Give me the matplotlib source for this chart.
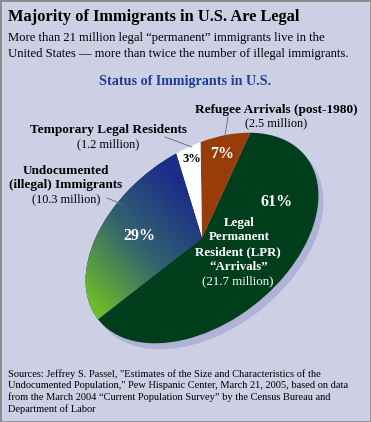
import numpy as np
import matplotlib
matplotlib.use('Agg')
import matplotlib.pyplot as plt
from matplotlib.patches import Ellipse, Rectangle
from matplotlib.transforms import Affine2D
from matplotlib.colors import LinearSegmentedColormap

W, H = 371, 422

# data, in pie order (counter-clockwise from the lower-left tip)
groups = ['LPR', 'Refugee', 'Temporary', 'Undocumented']
millions = [21.7, 2.5, 1.2, 10.3]
shares = ['61%', '7%', '3%', '29%']
slice_colors = ['#013f1c', '#983c0a', '#ffffff', '#1b2e88']

bg = '#cdd0e5'
serif = 'Liberation Serif'


def Y(y):
    # picture rows run downwards, the axes run upwards
    return H - y


fig = plt.figure(figsize=(W / 100, H / 100), dpi=100, facecolor=bg)
ax = fig.add_axes([0, 0, 1, 1])
ax.set_facecolor(bg)

# tilted pie: unit circle squashed and turned
pie_tf = Affine2D().scale(132, 85).rotate_deg(38).translate(202, Y(238))

shadow = Ellipse((0, 0), 2, 2, fc='#b0b3d6', ec='none', zorder=1,
                 transform=pie_tf + Affine2D().translate(5, -6) + ax.transData)
ax.add_patch(shadow)

wedges, _ = ax.pie(millions, colors=slice_colors, startangle=180,
                   counterclock=True, wedgeprops=dict(linewidth=0))
for w in wedges:
    w.set_transform(pie_tf + ax.transData)
    w.set_zorder(2)

# green-to-blue fade on the undocumented slice
gx = np.linspace(70, 215, 300)
gy = np.linspace(Y(345), Y(140), 400)
XX, YY = np.meshgrid(gx, gy)
p0 = np.array([88, Y(300)])
p1 = np.array([195, Y(200)])
d = p1 - p0
t = np.clip(((XX - p0[0]) * d[0] + (YY - p0[1]) * d[1]) / (d @ d), 0, 1)
fade = LinearSegmentedColormap.from_list('undoc', ['#6fbb2a', '#33646e', '#1b2e88'])
im = ax.imshow(t, cmap=fade, extent=(70, 215, Y(345), Y(140)), origin='lower',
               interpolation='bilinear', aspect='auto', zorder=3)
im.set_clip_path(wedges[3])

ax.set_xlim(0, W)
ax.set_ylim(0, H)
ax.set_aspect('auto')
ax.axis('off')

# heading
ax.text(8, Y(21), 'Majority of Immigrants in U.S. Are Legal', fontsize=11.8,
        fontweight='bold', family=serif, va='baseline')
ax.text(8, Y(41.5), 'More than 21 million legal \u201cpermanent\u201d immigrants live in the',
        fontsize=9.1, family=serif, va='baseline')
ax.text(8, Y(57), 'United States \u2014 more than twice the number of illegal immigrants.',
        fontsize=9.1, family=serif, va='baseline')
ax.text(185, Y(85), 'Status of Immigrants in U.S.', fontsize=10.2, fontweight='bold',
        family=serif, color='#1c3f94', ha='center', va='baseline')

# slice labels outside
lab = dict(family=serif, ha='center', va='baseline', zorder=5)
bold_lab = dict(fontsize=9.5, fontweight='bold', **lab)
reg_lab = dict(fontsize=8.8, **lab)
ax.text(276, Y(112.7), 'Refugee Arrivals (post-1980)', **bold_lab)
ax.text(276, Y(126.7), '(2.5 million)', **reg_lab)
ax.text(108, Y(133.3), 'Temporary Legal Residents', **bold_lab)
ax.text(108, Y(147.3), '(1.2 million)', **reg_lab)
ax.text(66, Y(174), 'Undocumented', **bold_lab)
ax.text(66, Y(188), '(illegal) Immigrants', **bold_lab)
ax.text(66, Y(202), '(10.3 million)', **reg_lab)

leader = dict(color='#666666', lw=0.6, zorder=5)
ax.plot([228, 225], [Y(117), Y(136)], **leader)
ax.plot([165, 192], [Y(137), Y(147)], **leader)
ax.plot([107, 124], [Y(198), Y(205)], **leader)

# percentages on the slices
pct = dict(family=serif, ha='center', va='baseline', fontweight='bold', zorder=5)
ax.text(277, Y(206), shares[0], fontsize=11.5, color='white', **pct)
ax.text(222, Y(158), shares[1], fontsize=11.5, color='white', **pct)
ax.text(192, Y(161.7), shares[2], fontsize=9, color='black', **pct)
ax.text(139, Y(240), shares[3], fontsize=11.5, color='white', **pct)

# LPR label inside its slice
inner = dict(family=serif, ha='center', va='baseline', color='white', fontsize=9.3, zorder=5)
ax.text(239, Y(226), 'Legal', fontweight='bold', **inner)
ax.text(239, Y(240.5), 'Permanent', fontweight='bold', **inner)
ax.text(238, Y(255.7), 'Resident (LPR)', fontweight='bold', **inner)
ax.text(239, Y(270), '\u201cArrivals\u201d', fontweight='bold', **inner)
ax.text(238, Y(284.3), '(21.7 million)', **inner)

# sources
src = [
    'Sources: Jeffrey S. Passel, "Estimates of the Size and Characteristics of the',
    'Undocumented Population," Pew Hispanic Center, March 21, 2005, based on data',
    'from the March 2004 \u201cCurrent Population Survey\u201d by the Census Bureau and',
    'Department of Labor',
]
for i, line in enumerate(src):
    ax.text(8, Y(376.7 + 11.7 * i), line, fontsize=7.5, family=serif, va='baseline')

ax.add_patch(Rectangle((0, 0), 1, 1, transform=ax.transAxes, fill=False,
                       ec='#8a8a8a', lw=2, zorder=10))

fig.savefig('out.png', dpi=100, facecolor=bg)
